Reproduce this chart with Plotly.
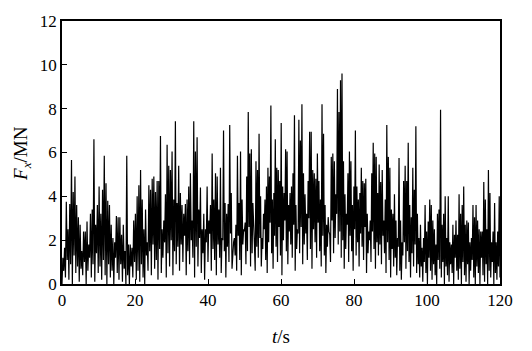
import numpy as np
import plotly.graph_objects as go

# Segment boundaries of the record (s)
seg_bounds = [0.0, 10.4, 21.3, 32.2, 43.2, 54.2, 65.1, 76.1, 87.1, 98.0, 109.0, 120.0]

# Local maxima of Fx (MN), per segment
peaks_01 = [1.2, 1.65, 3.75, 2.5, 3.65, 5.66, 4.2, 4.9, 3.6, 3.05, 2.7, 1.5, 2.4, 2.4, 2.85, 1.8, 3.2, 3.4, 6.6, 2.7, 3.6, 4.45]
peaks_02 = [3.2, 4.3, 5.85, 4.6, 3.8, 3.6, 2.7, 2.1, 1.9, 3.1, 3.05, 3.05, 2.25, 2.7, 1.5, 5.85, 1.8, 1.8, 1.65, 2.9, 3.2, 4.0, 4.5]
peaks_03 = [5.2, 3.85, 2.5, 3.4, 1.9, 4.5, 4.3, 4.8, 4.9, 4.2, 4.7, 4.7, 6.75, 2.5, 2.9, 4.1, 6.35, 5.4, 5.2, 6.05, 3.85, 7.43, 3.7, 5.4]
peaks_04 = [4.15, 3.6, 3.2, 3.65, 3.85, 4.45, 5.05, 2.9, 7.43, 6.05, 6.7, 3.4, 4.4, 2.5, 3.2, 2.5, 4.45, 2.9, 3.6, 5.95, 3.85, 5.05, 4.9, 3.4]
peaks_05 = [5.3, 2.1, 7.0, 3.7, 3.2, 3.65, 7.25, 4.15, 1.8, 2.1, 2.7, 5.85, 3.7, 6.05, 3.85, 2.5, 2.8, 4.9, 7.85, 5.95, 6.15, 3.7, 1.8, 5.6, 5.2, 6.85]
peaks_06 = [4.0, 2.1, 3.2, 3.85, 4.45, 5.3, 4.9, 8.15, 3.85, 4.15, 6.6, 5.3, 5.2, 4.7, 7.35, 4.45, 4.15, 6.15, 6.05, 3.6, 4.15, 4.45, 5.05, 7.7, 3.6, 2.5, 7.5]
peaks_07 = [6.55, 8.2, 5.05, 4.1, 3.2, 4.7, 6.95, 6.95, 5.2, 5.05, 4.8, 5.95, 4.7, 3.85, 8.2, 6.85, 3.6, 2.7, 3.05, 2.25, 5.8, 5.95, 5.6, 4.1, 8.9, 7.85]
peaks_08 = [9.3, 9.6, 5.6, 4.1, 3.2, 5.05, 6.05, 5.6, 3.6, 4.45, 7.0, 4.45, 3.85, 4.15, 5.3, 4.7, 4.6, 4.8, 3.2, 2.4, 2.9, 5.05, 6.45, 5.95, 5.8, 4.15, 5.45]
peaks_09 = [4.65, 5.2, 2.9, 3.85, 7.25, 5.8, 5.3, 3.4, 3.2, 4.1, 2.9, 2.1, 5.75, 2.9, 1.9, 4.7, 5.4, 4.7, 6.45, 3.6, 3.05, 5.3, 4.3, 7.2, 3.2, 2.1]
peaks_10 = [2.7, 1.65, 2.1, 3.6, 2.4, 2.85, 3.85, 3.6, 2.9, 2.5, 1.8, 3.2, 3.4, 7.95, 2.7, 3.2, 4.0, 2.1, 4.0, 1.9, 1.8, 2.7, 2.25, 2.9, 2.25, 4.1]
peaks_11 = [3.2, 3.6, 4.45, 2.7, 2.9, 2.8, 1.9, 2.1, 3.6, 3.05, 3.6, 2.9, 2.5, 2.4, 2.4, 4.65, 3.85, 2.5, 5.2, 4.15, 1.9, 2.4, 3.7, 1.9, 2.4, 4.0]

# Local minima between the maxima (MN), per segment
troughs_01 = [0.0, 0.6, 0.3, 1.1, 0.2, 0.9, 0.0, 1.3, 0.5, 0.8, 0.1, 0.7, 0.4, 1.0, 0.0, 0.6, 1.2, 0.3, 0.9, 0.1, 1.4, 0.5]
troughs_02 = [0.8, 0.2, 1.1, 0.4, 0.0, 0.9, 0.3, 0.6, 0.0, 1.2, 0.5, 0.2, 0.9, 0.1, 0.7, 0.0, 0.4, 0.0, 0.8, 0.3, 1.0, 0.2, 0.6]
troughs_03 = [0.1, 0.9, 0.3, 0.0, 1.3, 0.6, 1.5, 0.4, 1.8, 0.7, 1.1, 0.2, 1.6, 0.5, 1.2, 1.9, 0.3, 1.4, 0.8, 2.0, 0.4, 1.5, 0.9, 1.7]
troughs_04 = [0.6, 1.8, 1.0, 2.2, 0.4, 1.5, 0.9, 2.0, 1.2, 0.3, 1.7, 0.8, 2.1, 0.5, 1.4, 0.2, 1.9, 1.0, 2.3, 0.6, 1.6, 1.1, 0.4, 1.8]
troughs_05 = [1.2, 0.5, 2.0, 1.5, 0.3, 1.7, 1.0, 2.3, 0.7, 1.9, 1.3, 0.6, 2.2, 1.1, 0.4, 1.8, 2.4, 0.9, 1.5, 2.6, 0.8, 1.4, 2.0, 0.6, 1.7, 1.2]
troughs_06 = [2.1, 0.8, 1.6, 2.5, 1.1, 0.5, 1.9, 2.8, 1.4, 0.7, 2.2, 1.7, 1.0, 2.6, 1.3, 0.4, 2.0, 2.9, 1.5, 0.9, 2.4, 1.8, 1.2, 2.7, 0.6, 1.6, 2.3]
troughs_07 = [1.4, 2.6, 0.9, 1.8, 2.3, 1.1, 3.0, 1.6, 0.7, 2.5, 1.9, 1.2, 2.8, 1.5, 0.8, 2.2, 1.3, 0.5, 1.7, 2.4, 1.0, 2.9, 1.4, 2.1, 3.2, 1.8]
troughs_08 = [2.4, 1.2, 2.0, 0.7, 1.6, 2.7, 1.0, 2.2, 1.5, 0.6, 2.5, 1.3, 1.9, 0.8, 2.3, 1.7, 1.1, 2.6, 0.5, 1.4, 2.0, 1.0, 2.4, 1.6, 0.7, 1.9, 1.3]
troughs_09 = [1.8, 0.9, 2.2, 1.4, 0.5, 1.9, 1.1, 0.3, 1.6, 0.8, 1.2, 0.4, 1.7, 0.6, 0.2, 1.3, 1.9, 0.7, 1.5, 1.0, 0.3, 1.4, 0.8, 1.8, 0.5, 0.9]
troughs_10 = [0.3, 0.8, 0.1, 1.0, 0.5, 0.0, 1.2, 0.6, 0.2, 0.9, 0.4, 0.0, 1.1, 0.7, 0.3, 1.0, 0.0, 0.8, 0.4, 0.1, 0.9, 0.5, 0.0, 1.2, 0.6, 0.2]
troughs_11 = [0.7, 0.0, 1.0, 0.4, 0.1, 0.9, 0.0, 0.6, 1.1, 0.3, 0.0, 0.8, 0.5, 0.0, 1.2, 0.4, 0.1, 0.9, 0.0, 0.6, 0.3, 1.0, 0.0, 0.5, 0.2, 0.8]

x_ticks = [0, 20, 40, 60, 80, 100, 120]
y_ticks = [0, 2, 4, 6, 8, 10, 12]
x_title = "<i>t</i>/s"
y_title = "<i>F</i><sub><i>x</i></sub>/MN"

peak_sets = [peaks_01, peaks_02, peaks_03, peaks_04, peaks_05, peaks_06,
             peaks_07, peaks_08, peaks_09, peaks_10, peaks_11]
trough_sets = [troughs_01, troughs_02, troughs_03, troughs_04, troughs_05, troughs_06,
               troughs_07, troughs_08, troughs_09, troughs_10, troughs_11]

t_all, f_all = [], []
for i, (pk, tr) in enumerate(zip(peak_sets, trough_sets)):
    vals = []
    for a, b in zip(tr, pk):
        vals.extend([a, b])
    t0, t1 = seg_bounds[i], seg_bounds[i + 1]
    ts = np.linspace(t0, t1, len(vals), endpoint=False)
    t_all.extend(ts.tolist())
    f_all.extend(vals)
t_all.append(120.0)
f_all.append(0.3)

font_family = "Liberation Serif, DejaVu Serif, serif"

fig = go.Figure(go.Scatter(x=t_all, y=f_all, mode="lines",
                           line=dict(color="black", width=1.2), showlegend=False))

axis_common = dict(showgrid=False, zeroline=False, showline=True, linecolor="black",
                   linewidth=1.5, mirror=True, ticks="inside", ticklen=5,
                   tickcolor="black", tickfont=dict(family=font_family, size=17, color="black"))

fig.update_xaxes(range=[0, 120], tickvals=x_ticks, **axis_common)
fig.update_yaxes(range=[0, 12], tickvals=y_ticks, **axis_common)

L, R, T, B, W, H = 62, 32, 13, 67, 532, 351
pw, ph = W - L - R, H - T - B

fig.add_annotation(text=x_title, xref="paper", yref="paper", x=0.5, y=-(338 - (H - B)) / ph,
                   xanchor="center", yanchor="middle", showarrow=False,
                   font=dict(family=font_family, size=19, color="black"))
fig.add_annotation(text=y_title, xref="paper", yref="paper", x=-(L - 22) / pw, y=((H - B) - 150) / ph,
                   xanchor="center", yanchor="middle", textangle=-90, showarrow=False,
                   font=dict(family=font_family, size=19, color="black"))

fig.update_layout(width=W, height=H, margin=dict(l=L, r=R, t=T, b=B),
                  plot_bgcolor="white", paper_bgcolor="white")

fig.write_html("out.html")
